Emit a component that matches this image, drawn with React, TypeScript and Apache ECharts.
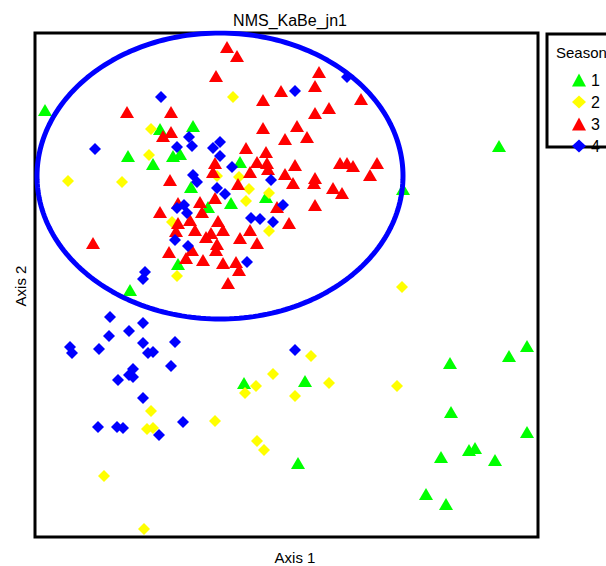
import React, { useEffect, useRef } from "react";
import * as echarts from "echarts";

const chartTitle = "NMS_KaBe_jn1";
const xAxisName = "Axis 1";
const yAxisName = "Axis 2";
const legendTitle = "Season";
const seasonNames = ["1", "2", "3", "4"];
const seasonColors = ["#00FF00", "#FFFF00", "#FF0000", "#0000FF"];
const seasonSymbols = ["triangle", "diamond", "triangle", "diamond"];

// NMS scores (arbitrary units; axis 2 grows downward in these units)
const season1: number[][] = [
  [45, 110], [160, 129], [193, 126], [128, 156], [173, 156], [180, 154], [153, 164],
  [240, 162], [266, 197], [208, 207], [231, 203], [191, 187], [178, 264], [130, 290],
  [403, 189], [499, 146], [244, 383], [305, 381], [298, 463], [450, 363], [509, 356],
  [527, 346], [451, 412], [527, 432], [441, 457], [469, 450], [475, 448], [495, 460],
  [426, 494], [446, 504],
];
const season2: number[][] = [
  [151, 129], [149, 155], [217, 176], [68, 181], [122, 182], [239, 177], [233, 97],
  [249, 189], [269, 193], [246, 201], [172, 222], [269, 231], [177, 276], [402, 287],
  [151, 411], [147, 429], [153, 428], [215, 421], [104, 476], [144, 529], [311, 356],
  [273, 374], [256, 386], [245, 393], [329, 383], [295, 396], [397, 386], [257, 441],
  [264, 450],
];
const season3: number[][] = [
  [127, 112], [171, 112], [227, 47], [237, 56], [216, 76], [163, 136], [171, 132],
  [215, 163], [213, 172], [170, 180], [319, 72], [315, 86], [281, 91], [263, 100],
  [361, 99], [329, 108], [315, 113], [263, 128], [297, 126], [285, 139], [307, 137],
  [246, 148], [266, 152], [257, 162], [267, 163], [268, 169], [295, 165], [340, 163],
  [347, 163], [353, 166], [377, 163], [370, 175], [250, 172], [285, 174], [315, 178],
  [238, 184], [293, 183], [314, 183], [333, 188], [342, 193], [215, 198], [277, 207],
  [315, 205], [289, 223], [218, 221], [223, 230], [211, 233], [240, 238], [257, 243],
  [250, 230], [217, 244], [216, 250], [203, 260], [223, 263], [236, 262], [239, 270],
  [228, 283], [160, 212], [178, 203], [200, 202], [190, 220], [202, 212], [178, 223],
  [176, 231], [195, 230], [206, 237], [93, 243], [169, 252], [192, 250], [186, 258],
];
const season4: number[][] = [
  [161, 97], [189, 137], [192, 146], [177, 147], [95, 149], [220, 142], [213, 148],
  [220, 156], [232, 167], [347, 77], [295, 91], [193, 175], [197, 182], [271, 180],
  [217, 188], [225, 194], [251, 218], [260, 219], [273, 222], [283, 205], [247, 262],
  [177, 208], [184, 205], [187, 213], [175, 240], [188, 246], [145, 272], [143, 279],
  [110, 317], [143, 323], [129, 331], [109, 336], [143, 343], [175, 342], [70, 347],
  [72, 353], [99, 349], [148, 353], [153, 352], [171, 366], [133, 369], [129, 375],
  [133, 377], [118, 380], [143, 398], [98, 427], [117, 427], [123, 428], [159, 435],
  [183, 422], [295, 350],
];
const seasonData = [season1, season2, season3, season4];

// Confidence ellipse: centre and semi-axes in score units
const ellipseCenter = [220, 176];
const ellipseRadii = [183, 143];

const xRange = [35, 538];
const yRange = [33, 537];

function ellipsePoints(): number[][] {
  const pts: number[][] = [];
  const n = 240;
  for (let i = 0; i <= n; i++) {
    const t = (i / n) * Math.PI * 2;
    pts.push([
      ellipseCenter[0] + ellipseRadii[0] * Math.cos(t),
      ellipseCenter[1] + ellipseRadii[1] * Math.sin(t),
    ]);
  }
  return pts;
}

export default function App() {
  const ref = useRef<HTMLDivElement>(null);
  useEffect(() => {
    if (!ref.current) return;
    const chart = echarts.init(ref.current, undefined, { renderer: "svg" });
    const font = "Liberation Sans, Arial, sans-serif";
    const scatterSeries = seasonData.map((d, i) => ({
      name: seasonNames[i],
      type: "scatter",
      data: d,
      symbol: seasonSymbols[i],
      symbolSize: seasonSymbols[i] === "triangle" ? [14, 12] : [12, 12],
      itemStyle: { color: seasonColors[i], opacity: 1 },
      z: 2,
    }));
    chart.setOption({
      animation: false,
      backgroundColor: "#ffffff",
      grid: {
        left: xRange[0],
        top: yRange[0],
        width: xRange[1] - xRange[0],
        height: yRange[1] - yRange[0],
        show: true,
        borderColor: "#000000",
        borderWidth: 3,
        backgroundColor: "transparent",
      },
      xAxis: {
        type: "value",
        min: xRange[0],
        max: xRange[1],
        axisLine: { show: false },
        axisTick: { show: false },
        axisLabel: { show: false },
        splitLine: { show: false },
      },
      yAxis: {
        type: "value",
        inverse: true,
        min: yRange[0],
        max: yRange[1],
        axisLine: { show: false },
        axisTick: { show: false },
        axisLabel: { show: false },
        splitLine: { show: false },
      },
      legend: {
        data: seasonNames.map((n, i) => ({ name: n, icon: seasonSymbols[i] })),
        orient: "vertical",
        left: 567,
        top: 67,
        itemWidth: 14,
        itemHeight: 13,
        itemGap: 6,
        selectedMode: false,
        textStyle: { fontSize: 16, color: "#000", fontFamily: font },
      },
      graphic: [
        {
          type: "text",
          x: 290,
          y: 20,
          style: {
            text: chartTitle,
            fontSize: 16,
            fill: "#000",
            fontFamily: font,
            align: "center",
            verticalAlign: "middle",
          },
        },
        {
          type: "text",
          x: 295,
          y: 557,
          style: {
            text: xAxisName,
            fontSize: 15,
            fill: "#000",
            fontFamily: font,
            align: "center",
            verticalAlign: "middle",
          },
        },
        {
          type: "text",
          x: 20,
          y: 286,
          rotation: Math.PI / 2,
          style: {
            text: yAxisName,
            fontSize: 15,
            fill: "#000",
            fontFamily: font,
            align: "center",
            verticalAlign: "middle",
          },
        },
        {
          type: "rect",
          shape: { x: 547, y: 34, width: 80, height: 113 },
          style: { fill: "transparent", stroke: "#000", lineWidth: 3 },
        },
        {
          type: "text",
          x: 556,
          y: 52,
          style: {
            text: legendTitle,
            fontSize: 15,
            fill: "#000",
            fontFamily: font,
            verticalAlign: "middle",
          },
        },
      ],
      series: [
        ...scatterSeries,
        {
          name: "ellipse",
          type: "line",
          data: ellipsePoints(),
          showSymbol: false,
          symbol: "none",
          smooth: false,
          lineStyle: { color: "#0000FF", width: 5 },
          z: 3,
          silent: true,
        },
      ],
    });
    return () => chart.dispose();
  }, []);
  return (
    <div
      ref={ref}
      style={{ position: "fixed", left: 0, top: 0, width: 606, height: 566 }}
    />
  );
}
